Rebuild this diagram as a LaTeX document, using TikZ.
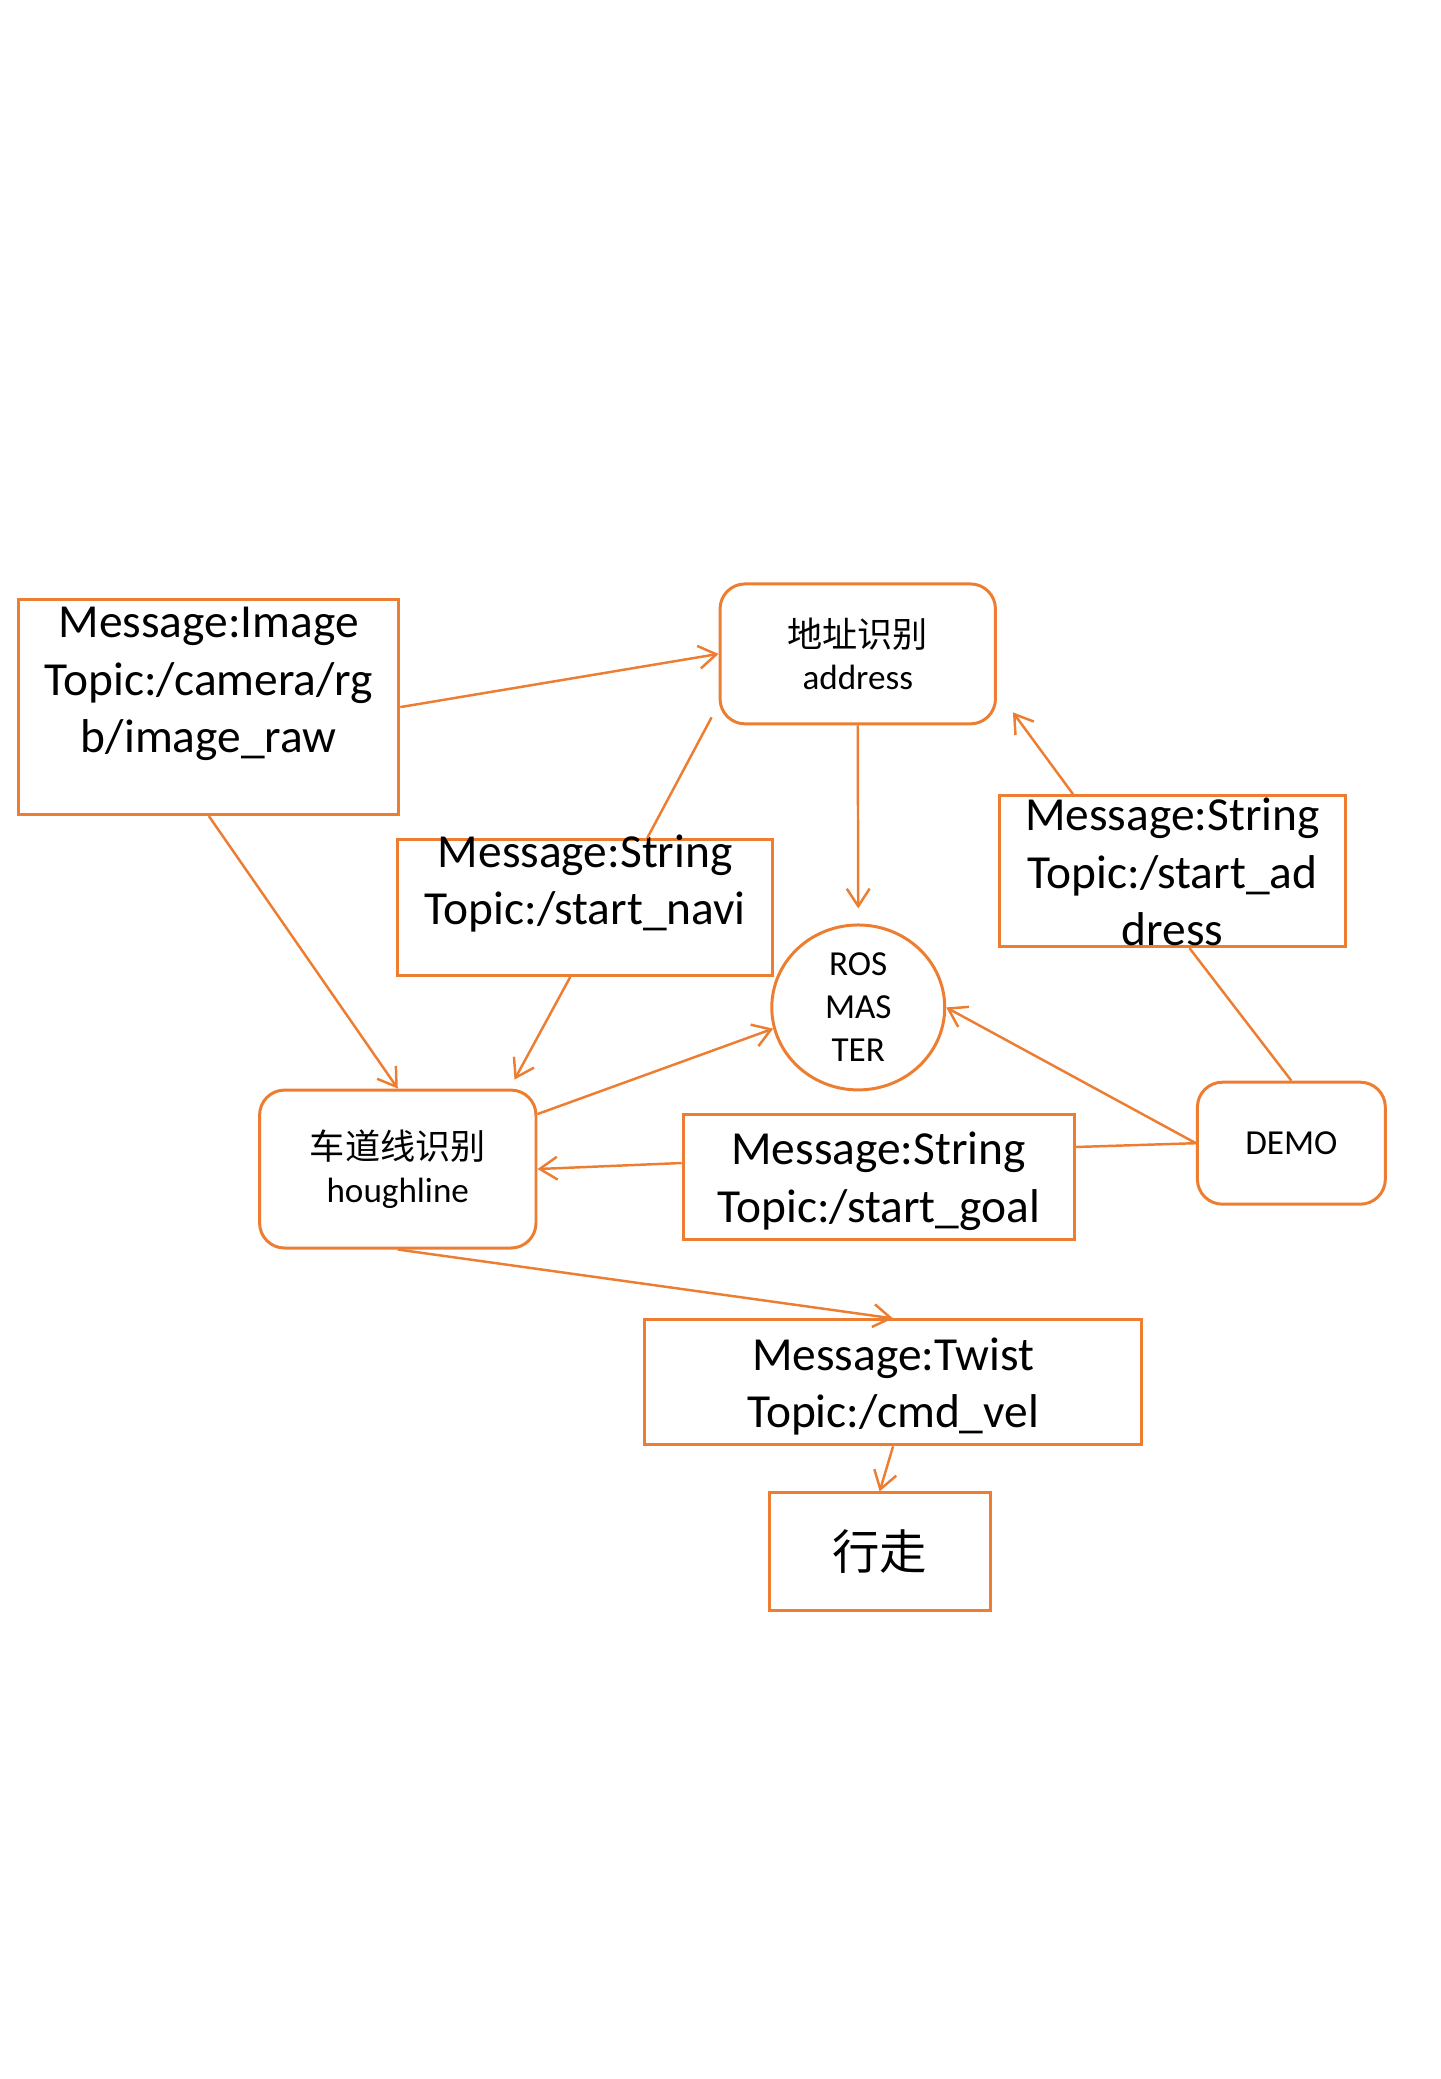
\documentclass[tikz,border=0pt]{standalone}
\usepackage{fontspec}
\setmainfont{Carlito}
\newfontfamily\cjk{Noto Sans CJK SC}
\usetikzlibrary{calc,shapes.geometric,arrows.meta}
\definecolor{accent}{HTML}{ED7D31}
\def\msgfont{\fontsize{13.5pt}{16.4pt}\selectfont}
\def\nodefont{\fontsize{10pt}{12.2pt}\selectfont}
\tikzset{
	msgbox/.style={draw=accent, line width=0.85pt, inner sep=0pt},
	msgtext/.style={font=\msgfont, align=center, inner sep=0pt},
	nodebox/.style={draw=accent, line width=0.85pt, rounded corners=0.25cm, inner sep=0pt, align=center, font=\nodefont},
	masternode/.style={draw=accent, line width=0.85pt, ellipse, inner sep=0pt, align=center, font=\nodefont},
	link/.style={draw=accent, line width=0.7pt},
	arr/.style={link, -{Straight Barb[length=5pt,width=6.5pt]}}
}

\begin{document}
\begin{tikzpicture}[x=0.009945cm, y={(0,-0.009945cm)}]
			%%%%% START %%%%%
			\useasboundingbox (0, 0) rectangle (1448, 2090.5);
			
			\node[msgbox, minimum width=3.80cm, minimum height=2.15cm, label={[msgtext, yshift=0.23cm]center:{Message:Image\\Topic:/camera/rg\\b/image\_raw}}] (img) at (210, 711) {};
			\node[nodebox, minimum width=2.755cm, minimum height=1.40cm] (addr) at (862.5, 657.5) {{\cjk 地址识别}\\address};
			\node[msgbox, minimum width=3.75cm, minimum height=1.36cm, label={[msgtext, yshift=0.24cm]center:{Message:String\\Topic:/start\_navi}}] (navi) at (588.5, 912.5) {};
			\node[msgbox, minimum width=3.46cm, minimum height=1.51cm, label={[msgtext, yshift=-0.01cm]center:{Message:String\\Topic:/start\_ad\\dress}}] (saddr) at (1179, 876) {};
			\node[masternode, minimum width=1.73cm, minimum height=1.65cm] (master) at (863, 1013) {ROS\\MAS\\TER};
			
			\node[nodebox, minimum width=2.765cm, minimum height=1.58cm] (hough) at (400, 1175.5) {{\cjk 车道线识别}\\houghline};
			\node[msgbox, minimum width=3.91cm, minimum height=1.26cm, label={[msgtext, yshift=-0.04cm]center:{Message:String\\Topic:/start\_goal}}] (goal) at (883.5, 1183.5) {};
			\node[nodebox, minimum width=1.88cm, minimum height=1.22cm] (demo) at (1298.5, 1149.5) {DEMO};
			
			\node[msgbox, minimum width=4.97cm, minimum height=1.25cm, label={[msgtext, yshift=-0.04cm]center:{Message:Twist\\Topic:/cmd\_vel}}] (twist) at (898, 1390) {};
			\node[msgbox, minimum width=2.21cm, minimum height=1.18cm, label={[msgtext]center:{\cjk 行走}}] (walk) at (884.5, 1560.5) {};
			
			% image topic
			\draw[arr] (img.east) -- (addr.west);
			\draw[arr] (img.south) -- (hough.north);
			
			% address -> navigation
			\draw[link] ([xshift=-0.07cm, yshift=0.08cm]addr.south west) -- ([xshift=0.62cm]navi.north);
			\draw[arr] ([xshift=-0.15cm]navi.south) -- ([xshift=-0.23cm, yshift=0.09cm]hough.north east);
			\draw[arr] (addr.south) -- ([yshift=0.15cm]master.north);
			
			% demo
			\draw[link] (demo.north) -- ([xshift=0.17cm]saddr.south);
			\draw[arr] ([xshift=0.75cm]saddr.north west) -- ([xshift=0.16cm, yshift=0.13cm]addr.south east);
			\draw[arr] (demo.west) -- (master.east);
			\draw[link] (demo.west) -- ([yshift=0.3cm]goal.east);
			\draw[arr] ([yshift=0.14cm]goal.west) -- (hough.east);
			
			% houghline
			\draw[arr] ([yshift=0.55cm]hough.east) -- (master.194);
			\draw[arr] (hough.south) -- (twist.north);
			\draw[arr] (twist.south) -- (walk.north);
			
			%%%%% END %%%%%
\end{tikzpicture}
\end{document}
